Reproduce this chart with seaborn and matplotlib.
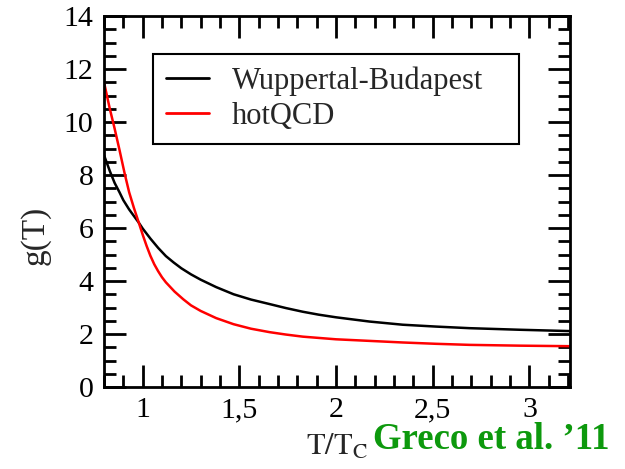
import numpy as np
import pandas as pd
import matplotlib
matplotlib.use("Agg")
import matplotlib.pyplot as plt
from matplotlib.ticker import MultipleLocator, FixedLocator
import seaborn as sns

# ---- data ----
series_names = ["Wuppertal-Budapest", "hotQCD"]
T_wb = [0.80, 0.83, 0.855, 0.88, 0.90, 0.93, 0.955, 0.98, 1.00, 1.04, 1.08, 1.12, 1.16,
        1.20, 1.25, 1.30, 1.38, 1.47, 1.56, 1.656, 1.74, 1.828, 1.91, 2.00, 2.173,
        2.345, 2.517, 2.69, 2.95, 3.21]
g_wb = [8.75, 8.15, 7.70, 7.35, 7.05, 6.70, 6.45, 6.20, 5.98, 5.60, 5.25, 4.94, 4.70,
        4.48, 4.25, 4.05, 3.77, 3.50, 3.30, 3.13, 2.98, 2.84, 2.73, 2.63, 2.47,
        2.35, 2.28, 2.22, 2.16, 2.11]
T_hq = [0.80, 0.83, 0.855, 0.88, 0.907, 0.93, 0.955, 0.98, 1.00, 1.02, 1.04, 1.06, 1.08,
        1.10, 1.12, 1.165, 1.21, 1.25, 1.30, 1.38, 1.47, 1.56, 1.656, 1.74, 1.828,
        2.00, 2.173, 2.345, 2.517, 2.69, 2.95, 3.21]
g_hq = [11.5, 10.5, 9.75, 8.95, 8.05, 7.35, 6.75, 6.20, 5.75, 5.33, 4.95, 4.63, 4.37,
        4.14, 3.95, 3.60, 3.31, 3.08, 2.87, 2.60, 2.37, 2.20, 2.07, 1.98, 1.90,
        1.80, 1.74, 1.68, 1.63, 1.59, 1.56, 1.54]
x_ticks = [1, 1.5, 2, 2.5, 3]
x_ticklabels = ["1", "1,5", "2", "2,5", "3"]
y_ticks = [0, 2, 4, 6, 8, 10, 12, 14]
colors = ["black", "red"]

df = pd.concat([
    pd.DataFrame({"T": T_wb, "g": g_wb, "set": series_names[0]}),
    pd.DataFrame({"T": T_hq, "g": g_hq, "set": series_names[1]}),
], ignore_index=True)

sns.set_style("ticks")
plt.rcParams["font.family"] = ["Liberation Serif", "DejaVu Serif"]
plt.rcParams["mathtext.fontset"] = "stix"

fig = plt.figure(figsize=(6.25, 4.69), dpi=100)
ax = fig.add_axes([104 / 625, 1 - 387 / 469, 466 / 625, 371 / 469])

sns.lineplot(data=df, x="T", y="g", hue="set", palette=dict(zip(series_names, colors)),
             sort=False, estimator=None, linewidth=1.8, ax=ax)

ax.set_xlim(0.80, 3.21)
ax.set_ylim(0, 14)
ax.xaxis.set_major_locator(FixedLocator(x_ticks))
ax.set_xticklabels(x_ticklabels)
ax.xaxis.set_minor_locator(MultipleLocator(0.1))
ax.set_yticks(y_ticks)
ax.yaxis.set_minor_locator(MultipleLocator(0.5))

for s in ax.spines.values():
    s.set_visible(True)
    s.set_linewidth(2.0)
    s.set_color("black")

ax.tick_params(which="both", direction="in", top=True, right=True, colors="black",
               labelsize=21.5, width=2.0, pad=7.5)
ax.tick_params(which="major", length=16)
ax.tick_params(which="minor", length=8.5)

ax.set_xlabel(r"$\mathrm{T/T_C}$", fontsize=22)
ax.xaxis.set_label_coords(0.5, -0.123)
ax.set_ylabel("g(T)", fontsize=24)
ax.yaxis.set_label_coords(-0.115, 0.41)

leg = ax.legend(loc="upper left", bbox_to_anchor=(0.105, 0.66, 0.786, 0.238),
                mode="expand", borderaxespad=0,
                frameon=True, fancybox=False, fontsize=22, handlelength=1.4,
                handletextpad=0.75, labelspacing=0.18, borderpad=0.42, title=None)
leg.get_frame().set_edgecolor("black")
leg.get_frame().set_linewidth(1.5)
leg.get_frame().set_alpha(1)
for line in leg.get_lines():
    line.set_linewidth(2.0)

fig.text(373 / 625, 1 - 449 / 469, "Greco et al. \u201911", color="#0d990d",
         fontsize=26.5, fontweight="bold", ha="left", va="baseline")

fig.savefig("out.png", dpi=100)
